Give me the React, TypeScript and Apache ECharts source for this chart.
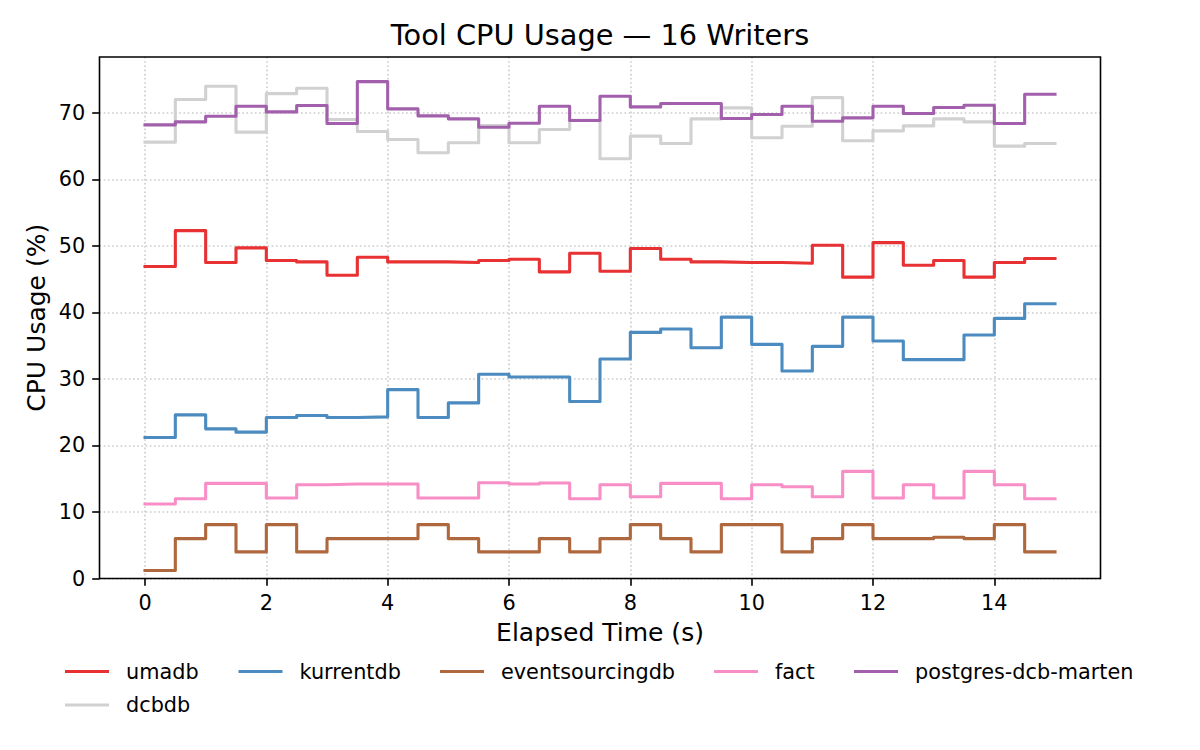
import React, { useEffect, useRef } from "react";
import * as echarts from "echarts";

const TITLE = "Tool CPU Usage — 16 Writers";
const X_NAME = "Elapsed Time (s)";
const Y_NAME = "CPU Usage (%)";

const TIME = [0, 0.5, 1, 1.5, 2, 2.5, 3, 3.5, 4, 4.5, 5, 5.5, 6, 6.5, 7, 7.5, 8, 8.5, 9, 9.5, 10, 10.5, 11, 11.5, 12, 12.5, 13, 13.5, 14, 14.5, 15];

const UMADB = [46.9, 52.3, 47.5, 49.7, 47.8, 47.6, 45.6, 48.3, 47.6, 47.6, 47.5, 47.8, 48.0, 46.1, 48.9, 46.2, 49.6, 48.0, 47.6, 47.5, 47.5, 47.4, 50.1, 45.3, 50.5, 47.1, 47.8, 45.3, 47.5, 48.1, 48.1];
const KURRENTDB = [21.2, 24.6, 22.5, 22.0, 24.2, 24.5, 24.2, 24.3, 28.4, 24.2, 26.4, 30.7, 30.3, 30.3, 26.6, 33.0, 37.0, 37.5, 34.7, 39.3, 35.2, 31.2, 34.9, 39.3, 35.7, 32.9, 32.9, 36.6, 39.1, 41.3, 41.3];
const EVENTSOURCINGDB = [1.2, 6.0, 8.1, 4.0, 8.1, 4.0, 6.0, 6.0, 6.0, 8.1, 6.0, 4.0, 4.0, 6.0, 4.0, 6.0, 8.1, 6.0, 4.0, 8.1, 8.1, 4.0, 6.0, 8.1, 6.0, 6.0, 6.2, 6.0, 8.1, 4.0, 4.0];
const FACT = [11.2, 12.0, 14.3, 14.3, 12.1, 14.1, 14.2, 14.2, 14.2, 12.1, 12.1, 14.4, 14.2, 14.35, 12.0, 14.1, 12.3, 14.3, 14.3, 12.0, 14.1, 13.8, 12.3, 16.1, 12.1, 14.1, 12.1, 16.1, 14.1, 12.0, 12.0];
const POSTGRES = [68.2, 68.65, 69.5, 71.0, 70.15, 71.1, 68.4, 74.7, 70.6, 69.55, 69.1, 67.85, 68.45, 71.0, 68.85, 72.5, 70.9, 71.4, 71.4, 69.15, 69.75, 71.0, 68.75, 69.25, 71.0, 69.9, 70.8, 71.15, 68.4, 72.8, 72.8];
const DCBDB = [65.6, 72.0, 74.0, 67.1, 72.9, 73.7, 69.0, 67.2, 66.0, 64.0, 65.5, 68.1, 65.5, 67.5, 68.9, 63.1, 66.5, 65.4, 69.1, 70.75, 66.25, 68.0, 72.3, 65.8, 67.3, 68.05, 69.1, 68.65, 65.0, 65.4, 65.4];

const SERIES_NAMES = ["umadb", "kurrentdb", "eventsourcingdb", "fact", "postgres-dcb-marten", "dcbdb"];
const SERIES_VALUES = [UMADB, KURRENTDB, EVENTSOURCINGDB, FACT, POSTGRES, DCBDB];
const SERIES_COLORS = ["#e73133", "#4b8bbf", "#af673e", "#f88ec6", "#a260ac", "#d1d1d1"];
// draw order: dcbdb first (bottom)
const DRAW_ORDER = [5, 0, 1, 2, 3, 4];

const X_MIN = 0;
const X_MAX = 15;
const X_TICKS_MAX = 14;
const X_TICK_STEP = 2;
const Y_TICKS_MIN = 0;
const Y_TICKS_MAX = 70;
const Y_TICK_STEP = 10;
const Y_MAX = 78.4;

const FONT = "DejaVu Sans";

// legend layout: [left, top]
const LEGEND_POS: [number, number][] = [
  [65, 661],
  [238.5, 661],
  [440, 661],
  [714, 661],
  [854, 661],
  [65, 694.5],
];

export default function App() {
  const ref = useRef<HTMLDivElement>(null);

  useEffect(() => {
    if (!ref.current) return;
    const chart = echarts.init(ref.current, undefined, { renderer: "svg" });

    const frameL = 99.5;
    const frameT = 57;
    const frameW = 1001;
    const frameH = 521.5;
    const unitX = frameW / 16.5;
    const unitY = frameH / Y_MAX;
    const x0 = frameL + 0.75 * unitX;

    const tickStyle = { color: "#000", width: 1.6 };
    const gridLine = { color: "#cacaca", width: 1.6, type: [1.6, 2.6] as any };
    const nameStyle = { fontFamily: FONT, fontSize: 25, color: "#000" };
    const labelStyle = { fontFamily: FONT, fontSize: 20.8, color: "#000" };

    const option: any = {
      animation: false,
      backgroundColor: "#ffffff",
      textStyle: { fontFamily: FONT },
      title: {
        text: TITLE,
        left: "center",
        top: 20.5,
        padding: 0,
        textStyle: { fontFamily: FONT, fontSize: 28.8, fontWeight: "normal", color: "#000" },
      },
      grid: [
        { left: frameL, top: frameT, width: frameW, height: frameH, show: true, borderColor: "#000", borderWidth: 1.6, backgroundColor: "transparent", z: 3 },
        { left: frameL, top: frameT + frameH - Y_TICKS_MAX * unitY, width: frameW, height: Y_TICKS_MAX * unitY },
        { left: x0, top: frameT, width: X_TICKS_MAX * unitX, height: frameH },
        { left: x0, top: frameT, width: X_MAX * unitX, height: frameH },
      ],
      xAxis: [
        {
          type: "value",
          gridIndex: 0,
          min: 0,
          max: 1,
          name: X_NAME,
          nameLocation: "middle",
          nameGap: 41,
          nameTextStyle: nameStyle,
          axisLine: { show: false },
          axisTick: { show: false },
          axisLabel: { show: false },
          splitLine: { show: false },
        },
        { type: "value", gridIndex: 1, show: false, min: 0, max: 1 },
        {
          type: "value",
          gridIndex: 2,
          min: X_MIN,
          max: X_TICKS_MAX,
          interval: X_TICK_STEP,
          axisLine: { show: false },
          axisTick: { show: true, inside: false, length: 7.3, lineStyle: tickStyle },
          axisLabel: { show: true, margin: 14.3, ...labelStyle },
          splitLine: { show: true, lineStyle: gridLine },
        },
        { type: "value", gridIndex: 3, show: false, min: X_MIN, max: X_MAX },
      ],
      yAxis: [
        {
          type: "value",
          gridIndex: 0,
          min: 0,
          max: 1,
          name: Y_NAME,
          nameLocation: "middle",
          nameGap: 51,
          nameTextStyle: nameStyle,
          axisLine: { show: false },
          axisTick: { show: false },
          axisLabel: { show: false },
          splitLine: { show: false },
        },
        {
          type: "value",
          gridIndex: 1,
          min: Y_TICKS_MIN,
          max: Y_TICKS_MAX,
          interval: Y_TICK_STEP,
          axisLine: { show: false },
          axisTick: { show: true, inside: false, length: 7.3, lineStyle: tickStyle },
          axisLabel: { show: true, margin: 14.3, ...labelStyle },
          splitLine: { show: true, lineStyle: gridLine },
        },
        { type: "value", gridIndex: 2, show: false, min: 0, max: Y_MAX },
        { type: "value", gridIndex: 3, show: false, min: 0, max: Y_MAX },
      ],
      legend: SERIES_NAMES.map((name, i) => ({
        data: [name],
        left: LEGEND_POS[i][0],
        top: LEGEND_POS[i][1],
        padding: 0,
        icon: "rect",
        itemWidth: 44,
        itemHeight: 3.1,
        itemStyle: { borderWidth: 0 },
        selectedMode: false,
        textStyle: { fontFamily: FONT, fontSize: 20.8, color: "#000", lineHeight: 21, padding: [0, 0, 0, 12] },
      })),
      series: DRAW_ORDER.map((i) => ({
        name: SERIES_NAMES[i],
        type: "line",
        step: "end",
        xAxisIndex: 3,
        yAxisIndex: 3,
        showSymbol: false,
        symbol: "none",
        data: TIME.map((t, k) => [t, SERIES_VALUES[i][k]]),
        itemStyle: { color: SERIES_COLORS[i] },
        lineStyle: { color: SERIES_COLORS[i], width: 3.1, join: "round", cap: "square" },
        emphasis: { disabled: true },
        z: 2,
      })),
    };

    chart.setOption(option);
    return () => chart.dispose();
  }, []);

  return (
    <div
      ref={ref}
      style={{ position: "absolute", left: 0, top: 0, width: 1200, height: 750 }}
    />
  );
}
